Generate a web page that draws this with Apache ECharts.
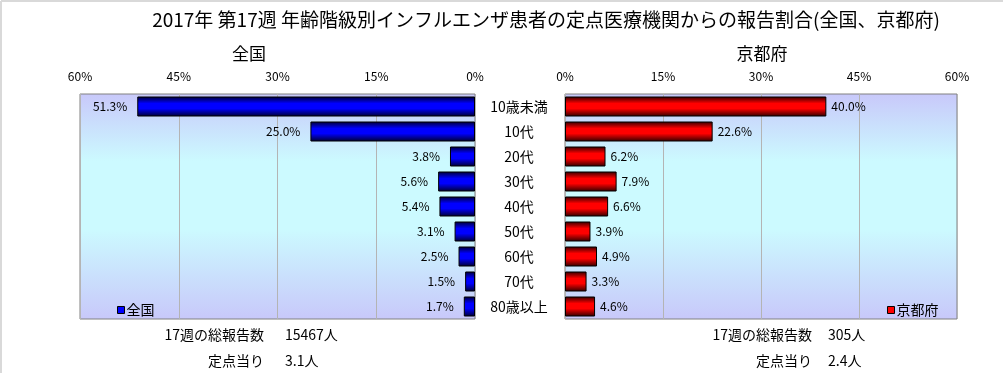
<!DOCTYPE html>
<html>
<head>
<meta charset="utf-8">
<script src="https://cdn.jsdelivr.net/npm/echarts@6/dist/echarts.min.js"></script>
<style>
html,body{margin:0;padding:0;background:#fff;}
#chart{width:1006px;height:373px;}
</style>
</head>
<body>
<div id="chart"></div>
<script>
const categories = ['10歳未満','10代','20代','30代','40代','50代','60代','70代','80歳以上'];
const nationalValues = [51.3, 25.0, 3.8, 5.6, 5.4, 3.1, 2.5, 1.5, 1.7];
const kyotoValues = [40.0, 22.6, 6.2, 7.9, 6.6, 3.9, 4.9, 3.3, 4.6];
const axisTicks = [0, 15, 30, 45, 60];
const titleText = '2017年 第17週 年齢階級別インフルエンザ患者の定点医療機関からの報告割合(全国、京都府)';
const nationalName = '全国';
const kyotoName = '京都府';
const nationalTotal = '15467人';
const nationalPerPoint = '3.1人';
const kyotoTotal = '305人';
const kyotoPerPoint = '2.4人';
const totalLabel = '17週の総報告数';
const perPointLabel = '定点当り';

const FONT = '"Noto Sans CJK JP", "Noto Sans", sans-serif';
const chart = echarts.init(document.getElementById('chart'), null, {renderer:'canvas'});

const bgGrad = {type:'linear', x:0, y:0, x2:0, y2:1, colorStops:[
  {offset:0, color:'#c8c8fa'},{offset:0.3, color:'#ccfaff'},{offset:0.6, color:'#ccfaff'},{offset:1, color:'#c8c8fa'}]};
const blueGrad = {type:'linear', x:0, y:0, x2:0, y2:1, colorStops:[
  {offset:0, color:'#000030'},{offset:0.35, color:'#0000ff'},{offset:0.6, color:'#0000ff'},{offset:1, color:'#000030'}]};
const redGrad = {type:'linear', x:0, y:0, x2:0, y2:1, colorStops:[
  {offset:0, color:'#300000'},{offset:0.35, color:'#ff0000'},{offset:0.6, color:'#ff0000'},{offset:1, color:'#300000'}]};

const valAxisCommon = {
  type:'value', min:axisTicks[0], max:axisTicks[axisTicks.length-1], interval:axisTicks[1]-axisTicks[0],
  position:'top',
  axisLine:{show:false}, axisTick:{show:false},
  axisLabel:{formatter:v=>v+'%', fontSize:12, color:'#000', fontFamily:FONT, margin:12},
  splitLine:{show:true, lineStyle:{color:'#b4b4b4', width:1}}
};

function txt(x, y, text, align, size){
  return {type:'text', x:x, y:y, style:{text:text, fill:'#000', font:(size||14)+'px '+FONT, textAlign:align, textVerticalAlign:'middle'}};
}

chart.setOption({
  animation:false,
  backgroundColor:'#fff',
  title:[
    {text:titleText, left:541, top:5, textAlign:'center', textStyle:{fontSize:19, fontWeight:'normal', color:'#000', fontFamily:FONT}},
    {text:nationalName, left:244, top:40, textAlign:'center', textStyle:{fontSize:17, fontWeight:'normal', color:'#000', fontFamily:FONT}},
    {text:kyotoName, left:757, top:40, textAlign:'center', textStyle:{fontSize:17, fontWeight:'normal', color:'#000', fontFamily:FONT}}
  ],
  grid:[
    {left:80, top:94, width:395, height:225, show:true, backgroundColor:bgGrad, borderColor:'#808080', borderWidth:1},
    {left:565, top:94, width:392, height:225, show:true, backgroundColor:bgGrad, borderColor:'#808080', borderWidth:1}
  ],
  xAxis:[
    Object.assign({gridIndex:0, inverse:true}, valAxisCommon),
    Object.assign({gridIndex:1}, valAxisCommon)
  ],
  yAxis:[
    {gridIndex:0, type:'category', data:categories, inverse:true, position:'right',
     axisLine:{show:false}, axisTick:{show:false},
     axisLabel:{align:'center', margin:44, fontSize:14, color:'#000', fontFamily:FONT}},
    {gridIndex:1, type:'category', data:categories, inverse:true,
     axisLine:{show:false}, axisTick:{show:false}, axisLabel:{show:false}}
  ],
  legend:[
    {data:[nationalName], left:112, top:298, icon:'rect', itemWidth:7, itemHeight:7, itemGap:2,
     textStyle:{fontSize:14, color:'#000', fontFamily:FONT, padding:[0,0,0,-3]},
     itemStyle:{color:'#0000ff', borderColor:'#000', borderWidth:1}},
    {data:[kyotoName], left:882, top:298, icon:'rect', itemWidth:7, itemHeight:7, itemGap:2,
     textStyle:{fontSize:14, color:'#000', fontFamily:FONT, padding:[0,0,0,-3]},
     itemStyle:{color:'#ff0000', borderColor:'#000', borderWidth:1}}
  ],
  series:[
    {name:nationalName, type:'bar', xAxisIndex:0, yAxisIndex:0, data:nationalValues, barCategoryGap:'20%',
     itemStyle:{color:blueGrad, borderColor:'#000', borderWidth:1},
     label:{show:true, position:'left', distance:10, formatter:p=>p.value.toFixed(1)+'%', fontSize:12, color:'#000', fontFamily:FONT}},
    {name:kyotoName, type:'bar', xAxisIndex:1, yAxisIndex:1, data:kyotoValues, barCategoryGap:'20%',
     itemStyle:{color:redGrad, borderColor:'#000', borderWidth:1},
     label:{show:true, position:'right', distance:5, formatter:p=>p.value.toFixed(1)+'%', fontSize:12, color:'#000', fontFamily:FONT}}
  ],
  graphic:[
    {type:'line', shape:{x1:1, y1:1, x2:1003, y2:1}, style:{stroke:'#d9d9d9', lineWidth:2}},
    {type:'line', shape:{x1:1, y1:1, x2:1, y2:373}, style:{stroke:'#d9d9d9', lineWidth:2}},
    txt(264, 335, totalLabel, 'right'),
    txt(285, 335, nationalTotal, 'left'),
    txt(264, 361, perPointLabel, 'right'),
    txt(285, 361, nationalPerPoint, 'left'),
    txt(812, 335, totalLabel, 'right'),
    txt(828, 335, kyotoTotal, 'left'),
    txt(812, 361, perPointLabel, 'right'),
    txt(828, 361, kyotoPerPoint, 'left')
  ]
});
</script>
</body>
</html>
